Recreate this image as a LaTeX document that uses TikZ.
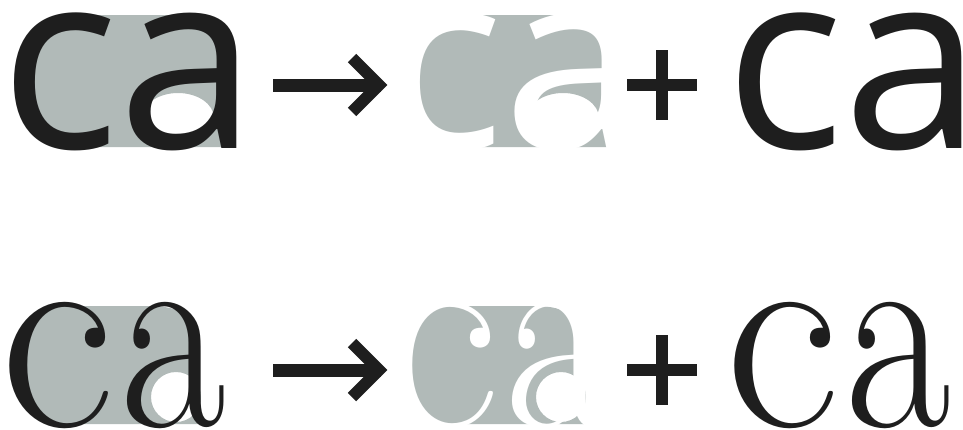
\documentclass[tikz,border=0pt]{standalone}
\usepackage{fontspec}
\newfontfamily\casansfont{Open Sans}
\definecolor{ink}{RGB}{30,30,30}
\definecolor{greyfill}{RGB}{177,186,184}
\tikzset{
  glyph/.style={inner sep=0pt, outer sep=0pt, anchor=base west, text=ink},
  topfont/.style={font={\casansfont\fontsize{249}{249}\selectfont}},
  botfont/.style={font={\rmfamily\fontsize{281}{281}\selectfont}},
  narrowa/.style={xscale=0.82, transform shape},
  plusbar/.style={draw=ink, line width=12pt},
  shaft/.style={draw=ink, line width=13pt},
  barb/.style={draw=ink, line width=12pt, miter limit=10},
  greybox/.style={fill=greyfill, draw=none, even odd rule},
  toparea/.pic={
    \path[greybox] (66,15) -- (175,15) .. controls (205,15) and (225,30) .. (225,58)
      -- (225,147) -- (66,147) .. controls (42,147) and (23,117) .. (23,81)
      .. controls (23,45) and (42,15) .. (66,15) -- cycle
      (178,118) ellipse [x radius=36, y radius=25];
  },
  botarea/.pic={
    \path[greybox] (63,306) -- (150,306) .. controls (182,306) and (199,318) .. (199,345)
      -- (199,424) -- (63,424) .. controls (39,424) and (20,398) .. (20,365)
      .. controls (20,332) and (39,306) .. (63,306) -- cycle
      (176,397) ellipse [x radius=25, y radius=25];
  },
}
\begin{document}
\begin{tikzpicture}[x=1pt,y=-1pt]
\useasboundingbox (0,0) rectangle (963,429);
% ---------------- top row (sans) ----------------
\pic at (0,0) {toparea};
\node[glyph,topfont] (ca1) at (0,148) {ca};
\pic at (385,0) {toparea};
\node[glyph,topfont,text=white] (cam1) at (385,148) {ca};
\coordinate (s1) at (273,85);
\coordinate (e1) at (381,85);
\draw[shaft] (s1) -- (e1);
\draw[barb] (352,58) -- (379,85) -- (352,112);
\coordinate (p1w) at (627,85);
\coordinate (p1e) at (697,85);
\coordinate (p1n) at (662,50);
\coordinate (p1s) at (662,120);
\draw[plusbar] (p1w) -- (p1e) (p1n) -- (p1s);
\node[glyph,topfont] (car1) at (725,148) {ca};
% ---------------- bottom row (serif) ----------------
\pic at (0,0) {botarea};
\node[glyph,botfont] (c2) at (0.5,426) {c};
\node[glyph,botfont,narrowa] (a2) at (120,426) {a};
\pic at (385,0) {botarea};
\node[glyph,botfont,text=white] (cm2) at (385.5,426) {c};
\node[glyph,botfont,narrowa,text=white] (am2) at (505,426) {a};
\coordinate (s2) at (273,370);
\coordinate (e2) at (381,370);
\draw[shaft] (s2) -- (e2);
\draw[barb] (352,343) -- (379,370) -- (352,397);
\coordinate (p2w) at (627,370);
\coordinate (p2e) at (697,370);
\coordinate (p2n) at (662,335);
\coordinate (p2s) at (662,405);
\draw[plusbar] (p2w) -- (p2e) (p2n) -- (p2s);
\node[glyph,botfont] (cr2) at (725.5,426) {c};
\node[glyph,botfont,narrowa] (ar2) at (845,426) {a};
\end{tikzpicture}
\end{document}
